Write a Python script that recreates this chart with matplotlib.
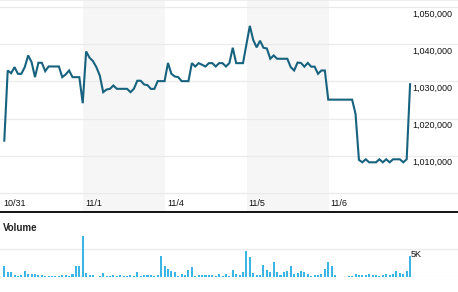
import matplotlib
matplotlib.use("Agg")
import matplotlib.pyplot as plt
from matplotlib.transforms import blended_transform_factory

# ---- data ----
day_labels = ["10/31", "11/1", "11/4", "11/5", "11/6"]
points_per_day = 24
price = [
    1014050, 1032970, 1032240, 1033870, 1032070, 1032070, 1033870, 1037030, 1035230, 1031170,
    1035050, 1035050, 1032790, 1034050, 1034050, 1034050, 1034050, 1031170, 1031890, 1032970,
    1031170, 1031170, 1031170, 1024140,
    1038110, 1036400, 1035500, 1033870, 1031620, 1027120, 1027840, 1028020, 1028920, 1028020,
    1028020, 1028020, 1028020, 1027120, 1028020, 1030200, 1030200, 1029200, 1029000, 1028000,
    1028000, 1030100, 1030100, 1030100,
    1035000, 1032070, 1031350, 1031170, 1030090, 1030090, 1030090, 1034950, 1034050, 1034950,
    1034500, 1034050, 1034950, 1034950, 1034050, 1034950, 1034950, 1034050, 1034950, 1039100,
    1034950, 1034950, 1034950, 1040000,
    1045000, 1041200, 1039200, 1041000, 1039100, 1038900, 1036130, 1037030, 1036130, 1036130,
    1036130, 1036130, 1033870, 1032970, 1035100, 1035000, 1034000, 1035000, 1034000, 1034000,
    1032070, 1032970, 1032970, 1025100,
    1025100, 1025100, 1025100, 1025100, 1025100, 1025100, 1025100, 1021270, 1008840, 1008200,
    1009010, 1008200, 1008200, 1008200, 1009010, 1008200, 1009010, 1008200, 1009010, 1009010,
    1009010, 1008200, 1009010, 1029270,
]
volume = [
    2020, 950, 950, 420, 240, 360, 1130, 600, 600, 600,
    420, 420, 180, 180, 180, 180, 180, 420, 420, 180,
    600, 2020, 2020, 7380,
    770, 420, 420, 60, 180, 770, 180, 180, 420, 180,
    420, 180, 180, 420, 180, 950, 180, 420, 420, 420,
    240, 420, 3810, 2020,
    1490, 1130, 950, 180, 600, 420, 1310, 1850, 180, 420,
    420, 420, 420, 420, 180, 600, 180, 600, 180, 1310,
    600, 420, 950, 4700,
    3630, 770, 420, 420, 2200, 1310, 950, 2740, 950, 420,
    950, 1130, 2020, 600, 770, 1130, 950, 600, 180, 420,
    420, 600, 1490, 2740,
    2020, 420, 0, 0, 0, 180, 180, 600, 420, 420,
    420, 600, 420, 420, 180, 420, 600, 420, 600, 1130,
    770, 600, 1130, 3810,
]
price_ticks = [1010000, 1020000, 1030000, 1040000, 1050000]
price_tick_labels = ["1,010,000", "1,020,000", "1,030,000", "1,040,000", "1,050,000"]
vol_tick = 5000
vol_tick_label = "5K"

# ---- layout (pixels) ----
W, H = 458, 292
x0_px, step_px = 4.3, 3.41
fig = plt.figure(figsize=(W / 100, H / 100), dpi=100)
plt.rcParams['font.family'] = ['Liberation Sans', 'DejaVu Sans']

xlim = (-x0_px / step_px, (W - x0_px) / step_px)

# main price axes: from y=0 to y=211.5 px
main_top, main_bot = 0.0, 211.5
ax = fig.add_axes([0, (H - main_bot) / H, 1, (main_bot - main_top) / H])
px_per_unit = 37.07 / 10000.0
base_px = 192.7  # pixel row of 1,000,000
ylo = 1000000 - (main_bot - base_px) / px_per_unit
yhi = 1000000 + (base_px - main_top) / px_per_unit
ax.set_xlim(*xlim)
ax.set_ylim(ylo, yhi)

grid_c = "#ebebeb"
band_c = "#f6f6f6"
line_c = "#17627e"
bar_c = "#3bb5e6"

n = len(price)
xs = list(range(n))
ndays = len(day_labels)
for d in range(ndays):
    if d % 2 == 1:
        ax.axvspan(d * points_per_day - 0.9, (d + 1) * points_per_day - 0.85,
                   color=band_c, lw=0, zorder=0)
for v in [1000000] + price_ticks:
    ax.axhline(v, color=grid_c, lw=0.9, zorder=1)
ax.axhline(yhi, color=grid_c, lw=1.2, zorder=1)

ax.plot(xs, price, color=line_c, lw=1.5, zorder=3, solid_joinstyle='miter')

for s in ["top", "left", "right"]:
    ax.spines[s].set_visible(False)
ax.spines["bottom"].set_color("black")
ax.spines["bottom"].set_linewidth(1.3)
ax.set_xticks([])
ax.set_yticks([])

def px_to_val(py):
    return 1000000 - (py - base_px) / px_per_unit

# date labels
for d, lab in enumerate(day_labels):
    ax.text(d * points_per_day - 0.3, px_to_val(203.3), lab, fontsize=6.5,
            ha="left", va="center", color="#111111")

# price tick labels
trans = blended_transform_factory(fig.transFigure, ax.transData)
for v, lab in zip(price_ticks, price_tick_labels):
    ax.text(412.3 / W, v - 6.5 / px_per_unit, lab, transform=trans, fontsize=6.5,
            ha="left", va="center", color="#111111")

# volume axes
v_top, v_bot = 233.0, 277.3
axv = fig.add_axes([0, (H - v_bot) / H, 1, (v_bot - v_top) / H])
vpx_per_unit = 28.0 / 5000.0
axv.set_xlim(*xlim)
axv.set_ylim(0, (v_bot - v_top) / vpx_per_unit)
axv.axhline(0, color=grid_c, lw=0.9, zorder=1)
axv.axhline(vol_tick, color=grid_c, lw=0.9, zorder=1)
axv.bar(xs, volume, width=0.6, color=bar_c, zorder=2)
axv.axis("off")
transv = blended_transform_factory(fig.transFigure, axv.transData)
axv.text(411 / W, vol_tick - 5.0 / vpx_per_unit, vol_tick_label, transform=transv,
         fontsize=6.5, ha="left", va="center", color="#111111")

fig.text(3 / W, 1 - 228 / H, "Volume", fontsize=7, fontweight="bold",
         ha="left", va="center", color="#222222")

fig.savefig("out.png", dpi=100)
